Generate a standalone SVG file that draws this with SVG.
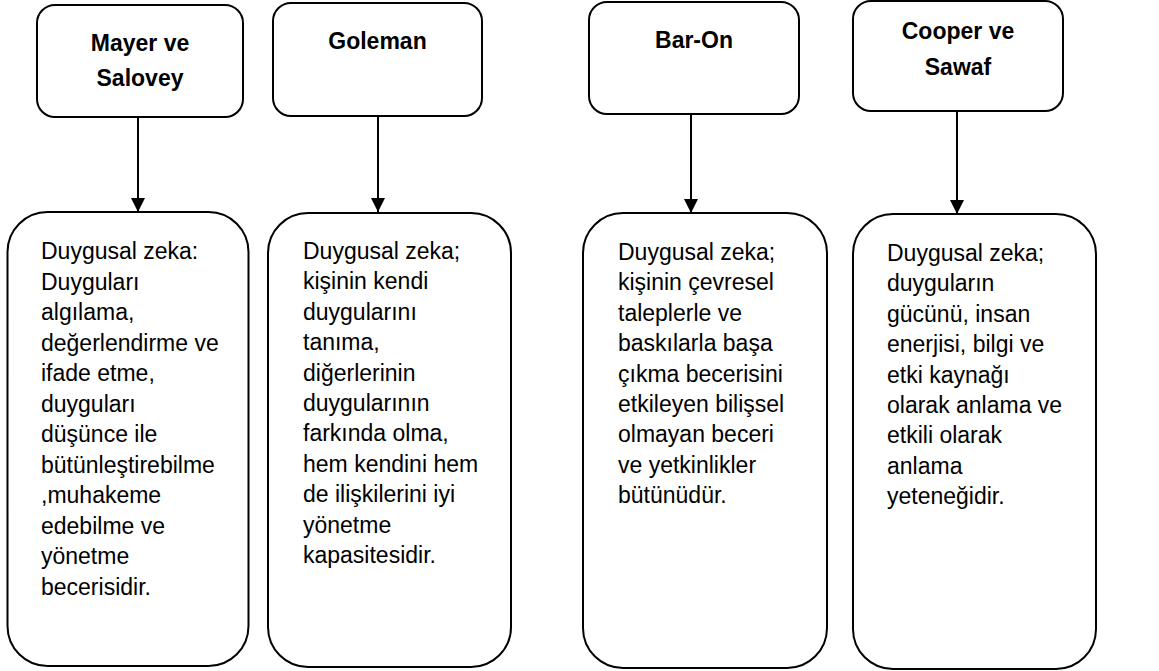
<svg xmlns="http://www.w3.org/2000/svg" width="1159" height="671" viewBox="0 0 1159 671">
  <style>
    .box { fill: #ffffff; stroke: #000000; stroke-width: 2; }
    .title { font-family: "Liberation Sans", Arial, sans-serif; font-size: 23px; font-weight: bold; fill: #000; text-anchor: middle; }
    .body { font-family: "Liberation Sans", Arial, sans-serif; font-size: 23px; fill: #000; }
    .conn { stroke: #000; stroke-width: 2; fill: none; }
  </style>
  <defs>
    <marker id="arrow" markerUnits="userSpaceOnUse" markerWidth="14" markerHeight="16" refX="14" refY="7" orient="auto">
      <path d="M0,0 L14,7 L0,14 Z" fill="#000"/>
    </marker>
  </defs>
  <rect width="1159" height="671" fill="#ffffff"/>

  <g id="connectors">
    <line class="conn" x1="138" y1="117" x2="138" y2="212" marker-end="url(#arrow)"/>
    <line class="conn" x1="378" y1="116" x2="378" y2="212" marker-end="url(#arrow)"/>
    <line class="conn" x1="691" y1="114" x2="691" y2="213" marker-end="url(#arrow)"/>
    <line class="conn" x1="957" y1="111" x2="957" y2="214" marker-end="url(#arrow)"/>
  </g>

  <g id="node-mayer">
    <rect class="box" x="37" y="5" width="206" height="112" rx="18" ry="18"/>
    <text class="title" x="140" y="51">Mayer ve</text>
    <text class="title" x="140" y="86">Salovey</text>
  </g>
  <g id="node-goleman">
    <rect class="box" x="273" y="3" width="209" height="113" rx="18" ry="18"/>
    <text class="title" x="377.5" y="49">Goleman</text>
  </g>
  <g id="node-baron">
    <rect class="box" x="589" y="2" width="210" height="112" rx="18" ry="18"/>
    <text class="title" x="694" y="48">Bar-On</text>
  </g>
  <g id="node-cooper">
    <rect class="box" x="853" y="1" width="210" height="110" rx="18" ry="18"/>
    <text class="title" x="958" y="39">Cooper ve</text>
    <text class="title" x="958" y="75">Sawaf</text>
  </g>

  <g id="node-def-mayer">
    <rect class="box" x="7.5" y="212" width="241" height="454" rx="40" ry="40"/>
    <text class="body" x="41" y="259">
      <tspan x="41" dy="0">Duygusal zeka:</tspan>
      <tspan x="41" dy="30.5">Duyguları</tspan>
      <tspan x="41" dy="30.5">algılama,</tspan>
      <tspan x="41" dy="30.5">değerlendirme ve</tspan>
      <tspan x="41" dy="30.5">ifade etme,</tspan>
      <tspan x="41" dy="30.5">duyguları</tspan>
      <tspan x="41" dy="30.5">düşünce ile</tspan>
      <tspan x="41" dy="30.5">bütünleştirebilme</tspan>
      <tspan x="41" dy="30.5">,muhakeme</tspan>
      <tspan x="41" dy="30.5">edebilme ve</tspan>
      <tspan x="41" dy="30.5">yönetme</tspan>
      <tspan x="41" dy="30.5">becerisidir.</tspan>
    </text>
  </g>
  <g id="node-def-goleman">
    <rect class="box" x="268" y="213" width="243" height="454" rx="40" ry="40"/>
    <text class="body" x="303" y="259">
      <tspan x="303" dy="0">Duygusal zeka;</tspan>
      <tspan x="303" dy="30.4">kişinin kendi</tspan>
      <tspan x="303" dy="30.4">duygularını</tspan>
      <tspan x="303" dy="30.4">tanıma,</tspan>
      <tspan x="303" dy="30.4">diğerlerinin</tspan>
      <tspan x="303" dy="30.4">duygularının</tspan>
      <tspan x="303" dy="30.4">farkında olma,</tspan>
      <tspan x="303" dy="30.4">hem kendini hem</tspan>
      <tspan x="303" dy="30.4">de ilişkilerini iyi</tspan>
      <tspan x="303" dy="30.4">yönetme</tspan>
      <tspan x="303" dy="30.4">kapasitesidir.</tspan>
    </text>
  </g>
  <g id="node-def-baron">
    <rect class="box" x="583" y="213" width="244" height="455" rx="40" ry="40"/>
    <text class="body" x="618" y="260">
      <tspan x="618" dy="0">Duygusal zeka;</tspan>
      <tspan x="618" dy="30.4">kişinin çevresel</tspan>
      <tspan x="618" dy="30.4">taleplerle ve</tspan>
      <tspan x="618" dy="30.4">baskılarla başa</tspan>
      <tspan x="618" dy="30.4">çıkma becerisini</tspan>
      <tspan x="618" dy="30.4">etkileyen bilişsel</tspan>
      <tspan x="618" dy="30.4">olmayan beceri</tspan>
      <tspan x="618" dy="30.4">ve yetkinlikler</tspan>
      <tspan x="618" dy="30.4">bütünüdür.</tspan>
    </text>
  </g>
  <g id="node-def-cooper">
    <rect class="box" x="853" y="214" width="243" height="455" rx="40" ry="40"/>
    <text class="body" x="887" y="261">
      <tspan x="887" dy="0">Duygusal zeka;</tspan>
      <tspan x="887" dy="30.4">duyguların</tspan>
      <tspan x="887" dy="30.4">gücünü, insan</tspan>
      <tspan x="887" dy="30.4">enerjisi, bilgi ve</tspan>
      <tspan x="887" dy="30.4">etki kaynağı</tspan>
      <tspan x="887" dy="30.4">olarak anlama ve</tspan>
      <tspan x="887" dy="30.4">etkili olarak</tspan>
      <tspan x="887" dy="30.4">anlama</tspan>
      <tspan x="887" dy="30.4">yeteneğidir.</tspan>
    </text>
  </g>
</svg>
